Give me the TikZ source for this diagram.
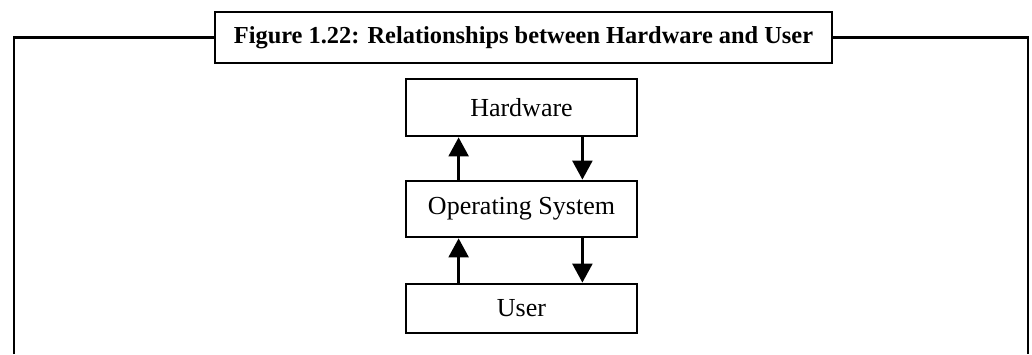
\documentclass[tikz,border=0pt]{standalone}
\usepackage{fontspec}
\setmainfont{Liberation Serif}
\usetikzlibrary{arrows.meta}
\begin{document}
\begin{tikzpicture}[x=0.5pt,y=-0.5pt,
  frameline/.style={line width=1.4pt},
  boxstyle/.style={draw,line width=1.4pt,minimum width=115.5pt,inner sep=0pt,font=\fontsize{13}{15}\selectfont},
  arr/.style={line width=1.2pt,-{Triangle[length=9.5pt,width=10pt]}}]
\useasboundingbox (0,0) rectangle (1032,354);
\node[draw,line width=1.4pt,minimum width=308.5pt,minimum height=25.5pt,inner sep=0pt,
  font=\bfseries\fontsize{12.2}{14}\selectfont] (title) at (523.5,37.5) {Figure 1.22: Relationships between Hardware and User};
\coordinate (fl) at (14,354);
\coordinate (fr) at (1028,354);
\draw[frameline] (fl) |- (title.west);
\draw[frameline] (title.east) -| (fr);
\node[boxstyle,minimum height=28.5pt] (hw) at (521.5,107.5) {Hardware};
\node[boxstyle,minimum height=28pt] (os) at (521.5,209) {Operating System};
\node[boxstyle,minimum height=24.5pt] (user) at (521.5,308.5) {User};
\draw[arr] ([xshift=27pt]os.north west) -- ([xshift=27pt]hw.south west);
\draw[arr] ([xshift=-28pt]hw.south east) -- ([xshift=-28pt]os.north east);
\draw[arr] ([xshift=27pt]user.north west) -- ([xshift=27pt]os.south west);
\draw[arr] ([xshift=-28pt]os.south east) -- ([xshift=-28pt]user.north east);
\end{tikzpicture}
\end{document}
